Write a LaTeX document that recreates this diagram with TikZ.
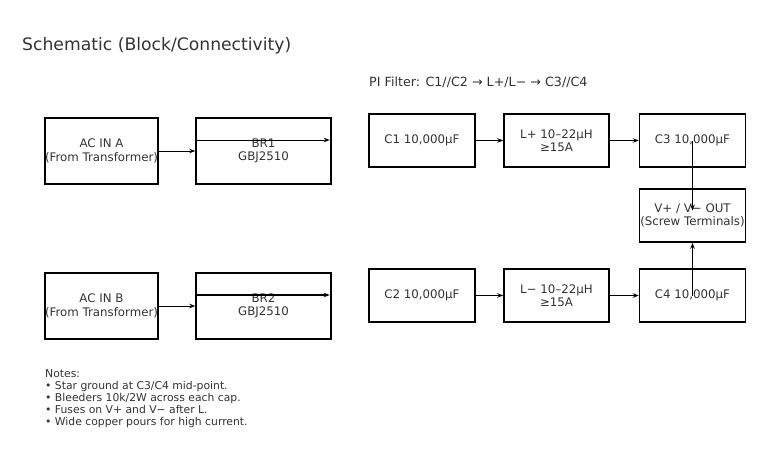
\documentclass[tikz,border=0pt]{standalone}
\usepackage{fontspec}
\setmainfont{DejaVu Sans}
\usetikzlibrary{positioning, arrows.meta}

\begin{document}
\begin{tikzpicture}[
  x=1pt, y=-1pt,
  block/.style={draw, line width=1.5pt, minimum height=66, inner sep=0, align=center, text=black!80,
    font=\fontsize{11.8}{13.5}\selectfont},
  filt/.style={block, minimum width=106, minimum height=53},
  wire/.style={-{Stealth[length=6pt,width=4.5pt]}, line width=0.8pt},
  bus/.style={wire, line width=1.5pt},
  label/.style={anchor=west, inner sep=0, text=black!80},
  ]

  \useasboundingbox (0,0) rectangle (768,458);

  % title and filter caption
  \node[label, font=\fontsize{17.2}{20}\selectfont] (title) at (22,46) {Schematic (Block/Connectivity)};
  \node[label, font=\fontsize{12.7}{15}\selectfont] (caption) at (369,82) {PI Filter: C1//C2 → L+/L− → C3//C4};

  % rectifier side
  \node[block, minimum width=113] (acA) at (101.5,151) {AC IN A\\(From Transformer)};
  \node[block, minimum width=135] (br1) at (263.5,151) {BR1\\GBJ2510};
  \node[block, minimum width=113] (acB) at (101.5,306) {AC IN B\\(From Transformer)};
  \node[block, minimum width=135] (br2) at (263.5,306) {BR2\\GBJ2510};

  % pi filter
  \node[filt] (c1) at (422,140.5) {C1 10,000μF};
  \node[filt, minimum width=105] (lp) at (556.5,140.5) {L+ 10–22μH\\≥15A};
  \node[filt] (c3) at (692.5,140.5) {C3 10,000μF};
  \node[filt] (out) at (692.5,215.5) {V+ / V− OUT\\(Screw Terminals)};
  \node[filt] (c2) at (422,295.5) {C2 10,000μF};
  \node[filt, minimum width=105] (lm) at (556.5,295.5) {L− 10–22μH\\≥15A};
  \node[filt] (c4) at (692.5,295.5) {C4 10,000μF};

  % notes
  \node[label, anchor=north west, align=left, font=\fontsize{10.8}{12.2}\selectfont] (notes) at (45,369)
    {Notes:\\• Star ground at C3/C4 mid-point.\\• Bleeders 10k/2W across each cap.\\• Fuses on V+ and V− after L.\\• Wide copper pours for high current.};

  % connections
  \draw[wire] (acA) -- (br1);
  \draw[wire] (acB) -- (br2);
  \draw[wire, shorten <=2pt, shorten >=2pt] ([yshift=11]br1.west) -- ([yshift=11]br1.east);
  \draw[bus, shorten <=2pt, shorten >=2pt] ([yshift=11]br2.west) -- ([yshift=11]br2.east);

  \draw[wire] (c1) -- (lp);
  \draw[wire] (lp) -- (c3);
  \draw[bus] (c2) -- (lm);
  \draw[bus] (lm) -- (c4);

  \draw[wire, shorten >=5pt] (c3.center) -- (out.center);
  \draw[wire] (c4.center) -- (out.south);

\end{tikzpicture}
\end{document}
